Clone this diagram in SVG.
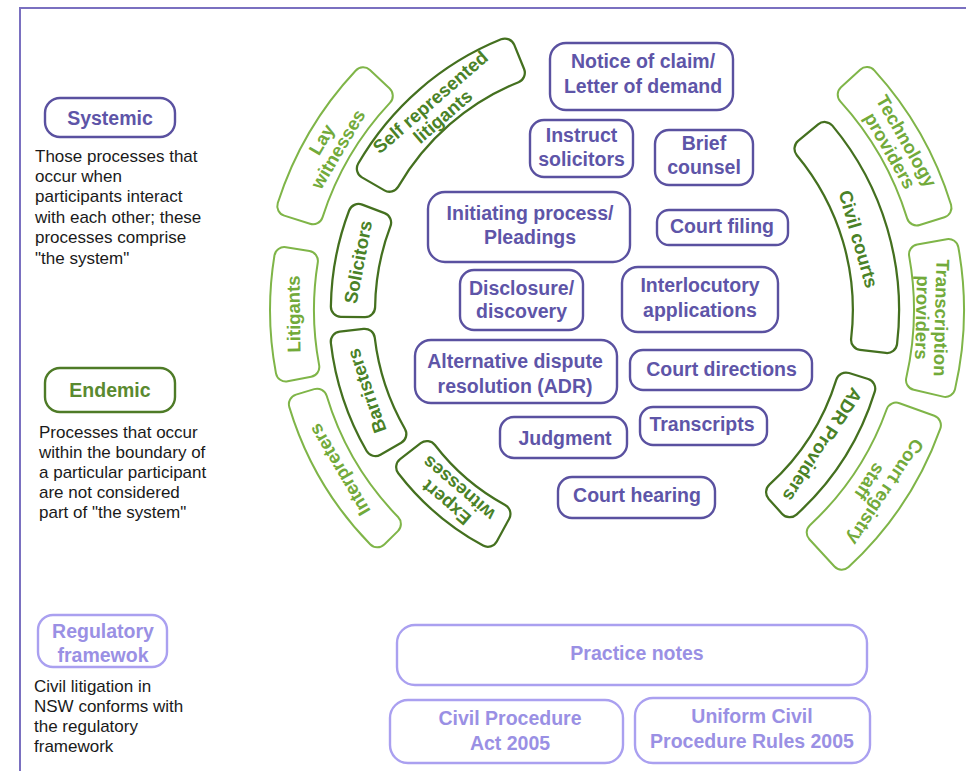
<svg xmlns="http://www.w3.org/2000/svg" xmlns:xlink="http://www.w3.org/1999/xlink" width="966" height="771" viewBox="0 0 966 771">
<style>
text{font-family:"Liberation Sans",Arial,sans-serif;font-weight:bold;font-size:19.5px;text-anchor:middle}
.p{fill:none;stroke:#5a51a0;stroke-width:2.4}
.pt{fill:#5e55a8}
.lp{fill:none;stroke:#aaa0f0;stroke-width:2.4}
.lpt{fill:#9a90e4}
.io{fill:none;stroke:#44701f;stroke-width:22.5;stroke-linejoin:round}
.oo{fill:none;stroke:#7fb548;stroke-width:22;stroke-linejoin:round}
.w{fill:#fff;stroke:#fff;stroke-width:18;stroke-linejoin:round}
.it{fill:#4a8227;font-size:18.5px}
.ot{fill:#72aa3a;font-size:18.5px}
.d{font-weight:normal;font-size:17px;text-anchor:start;fill:#1a1a1a}
</style>
<defs>
<path id="b1" d="M367.0,168.6 A282,282 0 0 1 504.9,48.7 L514.7,72.8 A256,256 0 0 0 389.5,181.6 Z"/>
<path id="b2" d="M341.0,306.7 A270,270 0 0 1 358.6,214.1 L381.0,222.6 A246,246 0 0 0 365.0,307.0 Z"/>
<path id="b3" d="M375.4,446 A272,272 0 0 1 340.9,341.7 L364.7,338.9 A248,248 0 0 0 396.2,434 Z"/>
<path id="b4" d="M487.9,536.7 A258,258 0 0 1 406.3,467.1 L426.9,451.2 A232,232 0 0 0 500.3,513.9 Z"/>
<path id="b5" d="M824.6,132.1 A278,278 0 0 1 887.0,342.9 L861.2,339.8 A252,252 0 0 0 804.6,148.7 Z"/>
<path id="b6" d="M865.1,388.7 A266,266 0 0 1 789.7,507.1 L776.2,492.2 A246,246 0 0 0 846.0,382.7 Z"/>
<path id="b7" d="M287.3,206.1 A340,340 0 0 1 363.1,77.3 L382.8,95.8 A313,313 0 0 0 313.0,214.3 Z"/>
<path id="b8" d="M285.8,371.5 A331,331 0 0 1 284.3,257.1 L307.9,260.9 A307,307 0 0 0 309.3,367.0 Z"/>
<path id="b9" d="M377.3,537.3 A326,326 0 0 1 298.9,404.2 L317.1,398.7 A307,307 0 0 0 390.9,524.0 Z"/>
<path id="b10" d="M866.9,77.1 A346,346 0 0 1 941.5,207.7 L916.7,215.4 A320,320 0 0 0 847.7,94.6 Z"/>
<path id="b11" d="M948.5,249.0 A343,343 0 0 1 945.3,386.9 L916.0,380.1 A313,313 0 0 0 919.0,254.3 Z"/>
<path id="b12" d="M930.9,425.2 A340,340 0 0 1 841.8,559.7 L816.7,532.5 A303,303 0 0 0 896.1,412.6 Z"/>
</defs>

<path id="frame" d="M20,771 V8 H966" fill="none" stroke="#7a70c0" stroke-width="2"/>

<!-- Legend -->
<g id="legend-systemic">
<rect class="p" x="45" y="98" width="130" height="39" rx="15"/>
<text class="pt" x="110" y="125">Systemic</text>
<text class="d"><tspan x="35" y="162">Those processes that</tspan><tspan x="35" y="182">occur when</tspan><tspan x="35" y="202">participants interact</tspan><tspan x="35" y="223">with each other; these</tspan><tspan x="35" y="243">processes comprise</tspan><tspan x="35" y="264">"the system"</tspan></text>
</g>
<g id="legend-endemic">
<rect x="45" y="368" width="130" height="44" rx="15" fill="none" stroke="#4e7b27" stroke-width="2.4"/>
<text x="110" y="397" fill="#5a8a30">Endemic</text>
<text class="d"><tspan x="39" y="438">Processes that occur</tspan><tspan x="39" y="458">within the boundary of</tspan><tspan x="39" y="478">a particular participant</tspan><tspan x="39" y="498">are not considered</tspan><tspan x="39" y="518">part of "the system"</tspan></text>
</g>
<g id="legend-regulatory">
<rect class="lp" x="38" y="615" width="129" height="52" rx="15"/>
<text class="lpt"><tspan x="103" y="638">Regulatory</tspan><tspan x="103" y="662">framewok</tspan></text>
<text class="d"><tspan x="34" y="692">Civil litigation in</tspan><tspan x="34" y="712">NSW conforms with</tspan><tspan x="34" y="732">the regulatory</tspan><tspan x="34" y="752">framework</tspan></text>
</g>

<!-- Inner ring participants -->
<g id="self-represented">
<use xlink:href="#b1" class="io"/><use xlink:href="#b1" class="w"/>
<text class="it" transform="translate(436.5,109.2) rotate(-41)"><tspan x="0" y="-3">Self represented</tspan><tspan x="0" y="16">litigants</tspan></text>
</g>
<g id="solicitors">
<use xlink:href="#b2" class="io"/><use xlink:href="#b2" class="w"/>
<text class="it" transform="translate(357.5,261.9) rotate(-79.25)" y="7">Solicitors</text>
</g>
<g id="barristers">
<use xlink:href="#b3" class="io"/><use xlink:href="#b3" class="w"/>
<text class="it" transform="translate(366,391) rotate(-108.75)" y="7">Barristers</text>
</g>
<g id="expert-witnesses">
<use xlink:href="#b4" class="io"/><use xlink:href="#b4" class="w"/>
<text class="it" transform="translate(452.5,495.5) rotate(220.5)"><tspan x="0" y="-3">Expert</tspan><tspan x="0" y="16">witnesses</tspan></text>
</g>
<g id="civil-courts">
<use xlink:href="#b5" class="io"/><use xlink:href="#b5" class="w"/>
<text class="it" transform="translate(859,238.9) rotate(74)" y="7">Civil courts</text>
</g>
<g id="adr-providers">
<use xlink:href="#b6" class="io"/><use xlink:href="#b6" class="w"/>
<text class="it" transform="translate(823,445) rotate(122.5)" y="7">ADR Providers</text>
</g>

<!-- Outer ring participants -->
<g id="lay-witnesses">
<use xlink:href="#b7" class="oo"/><use xlink:href="#b7" class="w"/>
<text class="ot" transform="translate(329.7,144.3) rotate(-59.5)"><tspan x="0" y="-3">Lay</tspan><tspan x="0" y="16">witnesses</tspan></text>
</g>
<g id="litigants">
<use xlink:href="#b8" class="oo"/><use xlink:href="#b8" class="w"/>
<text class="ot" transform="translate(293,314) rotate(-90.75)" y="7">Litigants</text>
</g>
<g id="interpreters">
<use xlink:href="#b9" class="oo"/><use xlink:href="#b9" class="w"/>
<text class="ot" transform="translate(339,470) rotate(239.5)" y="7">Interpreters</text>
</g>
<g id="technology-providers">
<use xlink:href="#b10" class="oo"/><use xlink:href="#b10" class="w"/>
<text class="ot" transform="translate(898.4,145.8) rotate(60.25)"><tspan x="0" y="-3">Technology</tspan><tspan x="0" y="16">providers</tspan></text>
</g>
<g id="transcription-providers">
<use xlink:href="#b11" class="oo"/><use xlink:href="#b11" class="w"/>
<text class="ot" transform="translate(932,317.7) rotate(91.35)"><tspan x="0" y="-3">Transcription</tspan><tspan x="0" y="16">providers</tspan></text>
</g>
<g id="court-registry-staff">
<use xlink:href="#b12" class="oo"/><use xlink:href="#b12" class="w"/>
<text class="ot" transform="translate(877.8,486.6) rotate(123.5)"><tspan x="0" y="-3">Court registry</tspan><tspan x="0" y="16">staff</tspan></text>
</g>

<!-- Processes -->
<g id="notice-of-claim">
<rect class="p" x="550" y="43" width="183" height="67" rx="16"/>
<text class="pt"><tspan x="643" y="68">Notice of claim/</tspan><tspan x="643" y="93">Letter of demand</tspan></text>
</g>
<g id="instruct-solicitors">
<rect class="p" x="530" y="120" width="103" height="57" rx="14"/>
<text class="pt"><tspan x="581.5" y="142">Instruct</tspan><tspan x="581.5" y="166">solicitors</tspan></text>
</g>
<g id="brief-counsel">
<rect class="p" x="655" y="130" width="98" height="55" rx="14"/>
<text class="pt"><tspan x="704" y="150">Brief</tspan><tspan x="704" y="174">counsel</tspan></text>
</g>
<g id="initiating-process">
<rect class="p" x="428" y="192" width="202" height="70" rx="17"/>
<text class="pt"><tspan x="530" y="220">Initiating process/</tspan><tspan x="530" y="244">Pleadings</tspan></text>
</g>
<g id="court-filing">
<rect class="p" x="657" y="210" width="131" height="35" rx="12"/>
<text class="pt" x="722" y="233">Court filing</text>
</g>
<g id="disclosure">
<rect class="p" x="460" y="270" width="123" height="60" rx="14"/>
<text class="pt"><tspan x="521.5" y="295">Disclosure/</tspan><tspan x="521.5" y="318">discovery</tspan></text>
</g>
<g id="interlocutory">
<rect class="p" x="622" y="267" width="156" height="65" rx="16"/>
<text class="pt"><tspan x="700" y="292">Interlocutory</tspan><tspan x="700" y="317">applications</tspan></text>
</g>
<g id="adr">
<rect class="p" x="415" y="340" width="202" height="63" rx="16"/>
<text class="pt"><tspan x="515" y="368">Alternative dispute</tspan><tspan x="515" y="393">resolution (ADR)</tspan></text>
</g>
<g id="court-directions">
<rect class="p" x="630" y="350" width="182" height="40" rx="13"/>
<text class="pt" x="721.5" y="376">Court directions</text>
</g>
<g id="judgment">
<rect class="p" x="500" y="417" width="127" height="41" rx="14"/>
<text class="pt" x="565" y="445">Judgment</text>
</g>
<g id="transcripts">
<rect class="p" x="640" y="407" width="127" height="38" rx="13"/>
<text class="pt" x="702" y="431">Transcripts</text>
</g>
<g id="court-hearing">
<rect class="p" x="558" y="477" width="157" height="41" rx="14"/>
<text class="pt" x="637" y="502">Court hearing</text>
</g>

<!-- Regulatory framework -->
<g id="practice-notes">
<rect class="lp" x="397" y="625" width="470" height="60" rx="18"/>
<text class="lpt" x="637" y="660">Practice notes</text>
</g>
<g id="civil-procedure-act">
<rect class="lp" x="390" y="700" width="233" height="63" rx="18"/>
<text class="lpt"><tspan x="510" y="725">Civil Procedure</tspan><tspan x="510" y="750">Act 2005</tspan></text>
</g>
<g id="ucpr">
<rect class="lp" x="635" y="698" width="235" height="65" rx="18"/>
<text class="lpt"><tspan x="752" y="723">Uniform Civil</tspan><tspan x="752" y="748">Procedure Rules 2005</tspan></text>
</g>
<g id="connectors"></g>
</svg>
